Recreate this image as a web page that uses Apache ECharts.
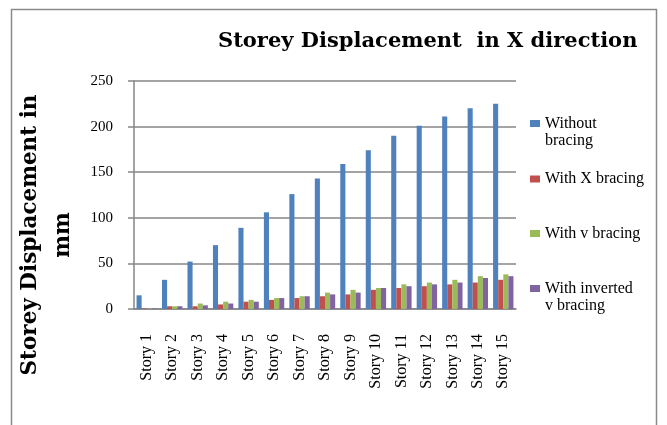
<!DOCTYPE html>
<html>
<head>
<meta charset="utf-8">
<script src="https://cdn.jsdelivr.net/npm/echarts@6/dist/echarts.min.js"></script>
<style>
  html, body { margin: 0; padding: 0; background: #fff; }
  #main { width: 667px; height: 425px; }
</style>
</head>
<body>
<div id="main"></div>
<script>
var stories = ['Story 1', 'Story 2', 'Story 3', 'Story 4', 'Story 5', 'Story 6', 'Story 7', 'Story 8',
  'Story 9', 'Story 10', 'Story 11', 'Story 12', 'Story 13', 'Story 14', 'Story 15'];
var withoutBracing = [15, 32, 52, 70, 89, 106, 126, 143, 159, 174, 190, 201, 211, 220, 225];
var withX = [0.5, 3, 3, 5, 8, 10, 12, 14, 16, 21, 23, 25, 27, 29, 32];
var withV = [0.5, 3, 6, 8, 10, 12, 14, 18, 21, 23, 27, 29, 32, 36, 38];
var withInvV = [0.5, 3, 4, 6, 8, 12, 14, 16, 18, 23, 25, 27, 29, 34, 36];

var serif = '"Liberation Serif", "DejaVu Serif", serif';
var boldSerif = '"DejaVu Serif", serif';

var chart = echarts.init(document.getElementById('main'));

// one legend per entry so each one can sit where the original puts it
function legendAt(name, top, twoLine) {
  return {
    orient: 'vertical',
    left: 530,
    top: top,
    padding: 0,
    icon: 'rect',
    itemWidth: 10,
    itemHeight: 7,
    itemGap: 0,
    selectedMode: false,
    data: [name],
    formatter: twoLine ? function (n) { return '\n' + n; } : '{name}',
    textStyle: { fontFamily: serif, fontSize: 16, color: '#000', lineHeight: 17 }
  };
}

var option = {
  animation: false,
  color: ['#4F81BD', '#C0504D', '#9BBB59', '#8064A2'],
  title: {
    text: 'Storey Displacement  in X direction',
    left: 218,
    top: 31,
    padding: 0,
    textStyle: { fontFamily: boldSerif, fontSize: 21, fontWeight: 'bold', color: '#000' }
  },
  legend: [
    legendAt('Without\nbracing', 98, true),
    legendAt('With X bracing', 170.5, false),
    legendAt('With v bracing', 225, false),
    legendAt('With inverted\nv bracing', 263, true)
  ],
  graphic: [{
    type: 'rect',
    shape: { x: 11.5, y: 9.5, width: 645, height: 440 },
    style: { fill: 'none', stroke: '#8a8a8a', lineWidth: 1.5 },
    silent: true
  }],
  grid: { left: 134, right: 151, top: 81, bottom: 116 },
  xAxis: {
    type: 'category',
    data: stories,
    axisLine: { lineStyle: { color: '#868686', width: 1.5 } },
    axisTick: { show: false },
    axisLabel: {
      rotate: 90,
      interval: 0,
      margin: 25,
      fontFamily: serif,
      fontSize: 16,
      color: '#000'
    }
  },
  yAxis: {
    type: 'value',
    min: 0,
    max: 250,
    interval: 50,
    name: 'Storey Displacement in\nmm',
    nameLocation: 'middle',
    nameRotate: 90,
    nameGap: 49,
    nameTextStyle: {
      fontFamily: boldSerif,
      fontSize: 21.5,
      fontWeight: 'bold',
      color: '#000',
      lineHeight: 33,
      padding: [0, 80, 0, 0]
    },
    axisLine: { show: true, lineStyle: { color: '#868686', width: 1.5 } },
    axisTick: { show: true, length: 6, lineStyle: { color: '#868686', width: 1.5 } },
    splitLine: { lineStyle: { color: '#868686', width: 1.5 } },
    axisLabel: { fontFamily: serif, fontSize: 15, color: '#000', margin: 21 }
  },
  series: [
    { name: 'Without\nbracing', type: 'bar', data: withoutBracing, barGap: '0%', barCategoryGap: '20%' },
    { name: 'With X bracing', type: 'bar', data: withX },
    { name: 'With v bracing', type: 'bar', data: withV },
    { name: 'With inverted\nv bracing', type: 'bar', data: withInvV }
  ]
};

chart.setOption(option);
</script>
</body>
</html>
